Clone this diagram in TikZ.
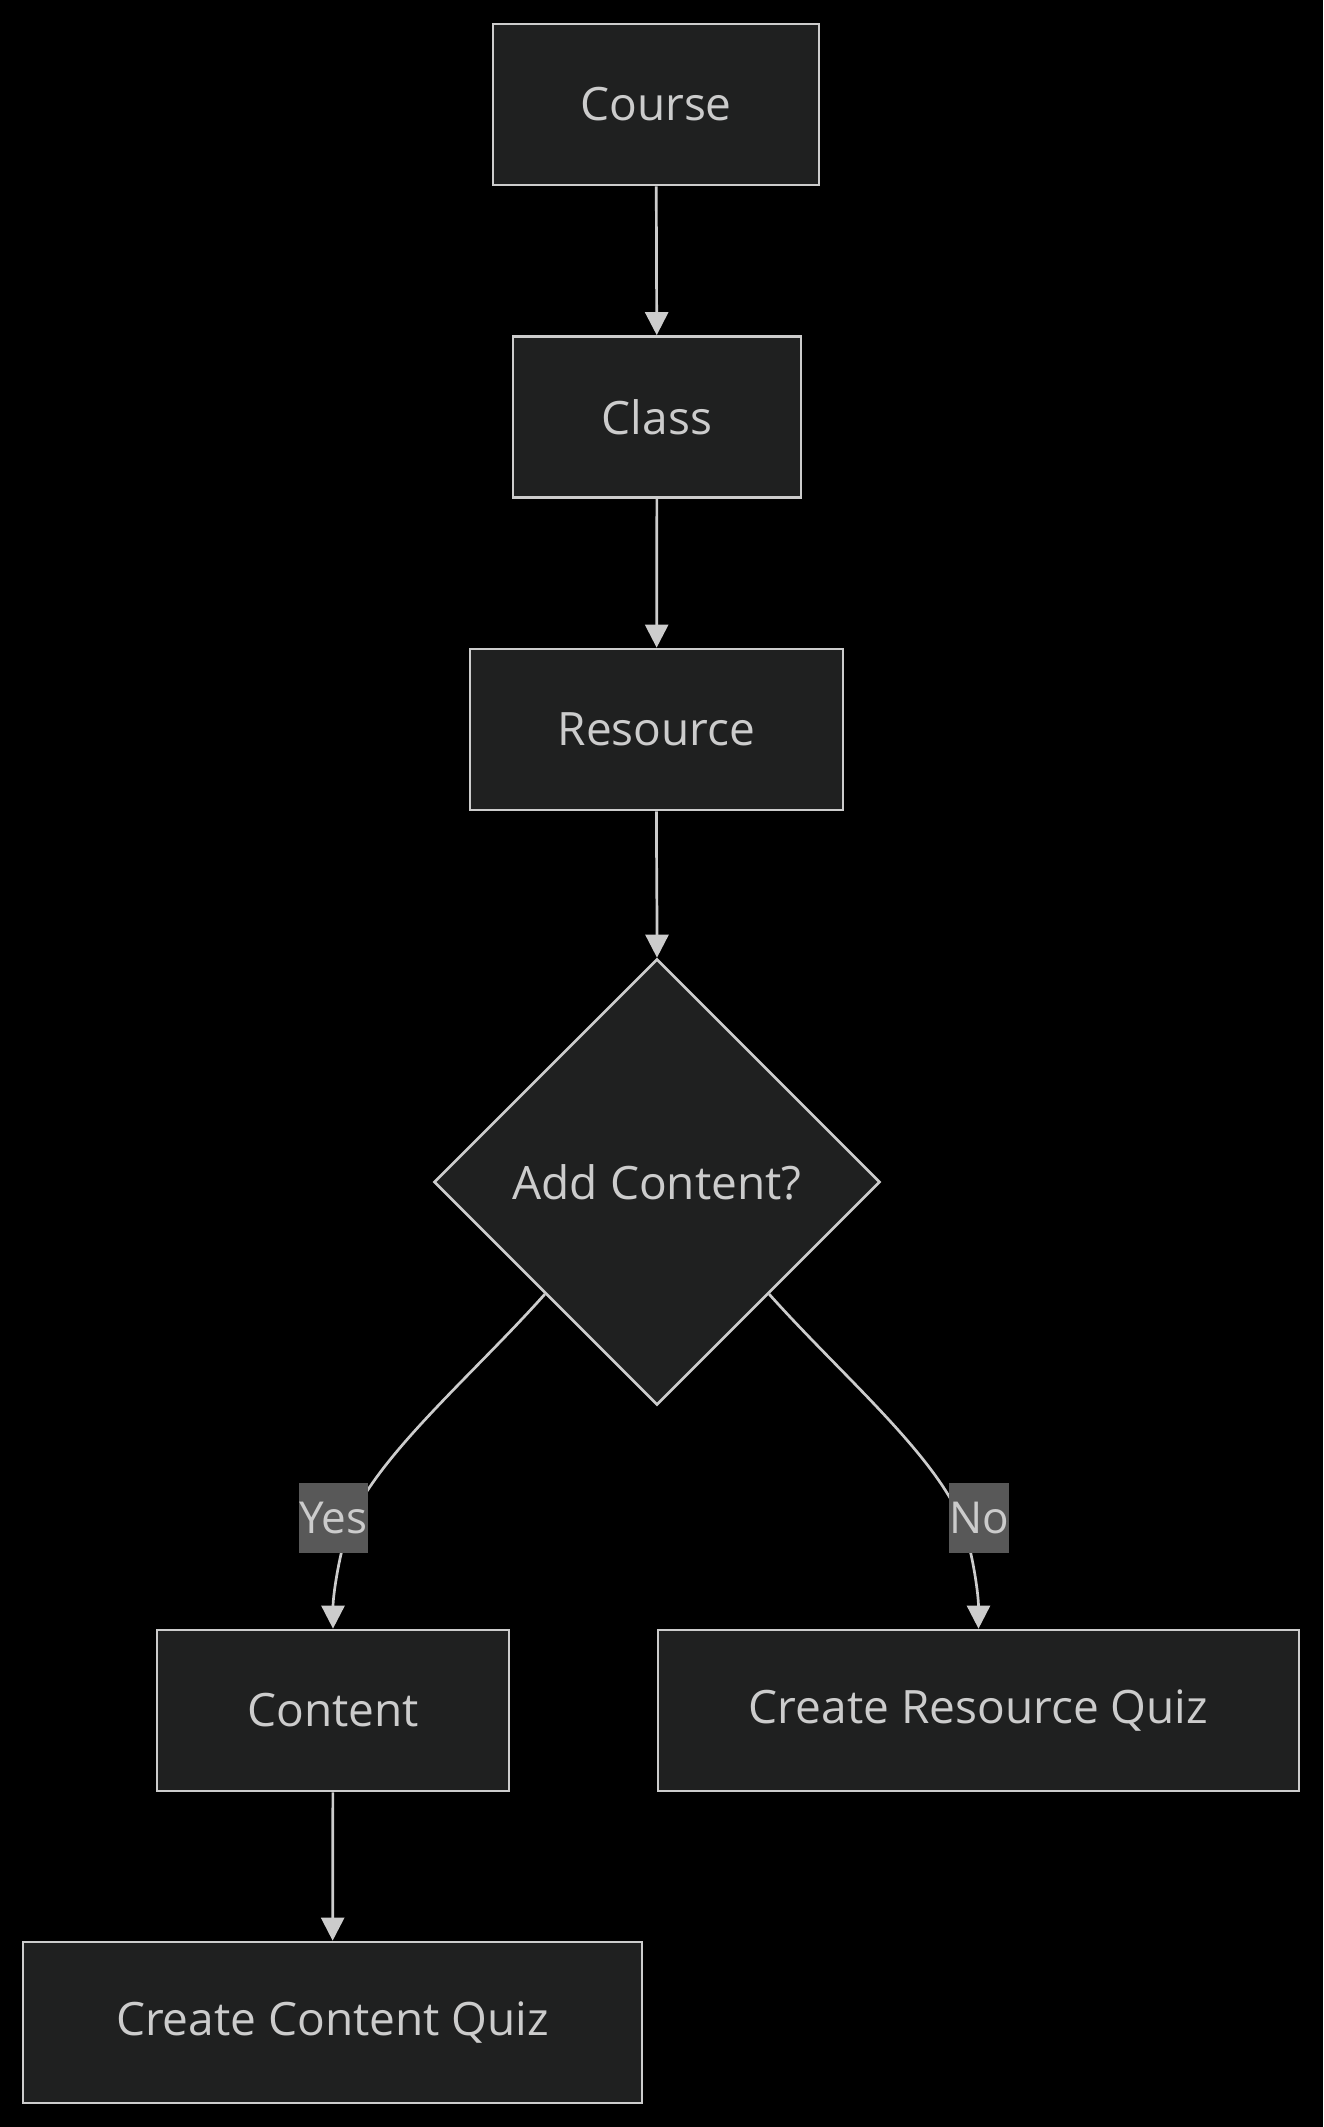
\documentclass[tikz,border=0pt]{standalone}
\usepackage{fontspec}
\setmainfont{Open Sans}
\usetikzlibrary{shapes.geometric,arrows.meta}
\definecolor{nodefill}{RGB}{31,32,32}
\definecolor{strokec}{RGB}{204,204,204}
\definecolor{txtc}{RGB}{204,204,204}
\definecolor{lblbg}{RGB}{88,88,88}
\begin{document}
\begin{tikzpicture}[x=1pt,y=-1pt,
  box/.style={draw=strokec, fill=nodefill, line width=2.7pt, text=txtc,
    font=\fontsize{46}{55}\selectfont, minimum height=161pt, inner sep=0pt},
  decision/.style={diamond, draw=strokec, fill=nodefill, line width=2.7pt, text=txtc,
    font=\fontsize{46}{55}\selectfont, minimum width=446pt, minimum height=446pt, inner sep=0pt},
  elabel/.style={fill=lblbg, text=txtc, font=\fontsize{44}{53}\selectfont,
    minimum height=70pt, inner sep=0pt},
  edge/.style={draw=strokec, line width=2.7pt, -{Triangle[width=23pt,length=23pt]}}]
\fill[black] (0,0) rectangle (1323,2127);
\useasboundingbox (0,0) rectangle (1323,2127);

\node[box, minimum width=326pt] (course) at (656,104.5) {Course};
\node[box, minimum width=288pt] (class) at (657,417) {Class};
\node[box, minimum width=373pt] (resource) at (656.5,729.5) {Resource};
\node[decision] (dec) at (657,1182) {Add Content?};
\node[box, minimum width=352pt] (content) at (333,1710.5) {Content};
\node[box, minimum width=641pt] (rquiz) at (978.5,1710.5) {Create Resource Quiz};
\node[box, minimum width=619pt] (cquiz) at (332.5,2022.5) {Create Content Quiz};

\coordinate (yesvia) at (347,1530);
\coordinate (novia) at (965,1530);

\draw[edge] (course) -- (class);
\draw[edge] (class) -- (resource);
\draw[edge] (resource.south) .. controls (656.5,880) and (657,900) .. (dec.north);
\draw[edge] (dec.south west) .. controls (470,1378) and (372,1460) .. (yesvia)
  .. controls (336,1570) and (333,1600) .. (content.north);
\draw[edge] (dec.south east) .. controls (844,1378) and (942,1460) .. (novia)
  .. controls (976,1570) and (978.5,1600) .. (rquiz.north);
\draw[edge] (content) -- (cquiz);

\node[elabel, minimum width=69pt] (yes) at (333.5,1517.5) {Yes};
\node[elabel, minimum width=57pt] (no) at (979,1517.5) {No};
\end{tikzpicture}
\end{document}
